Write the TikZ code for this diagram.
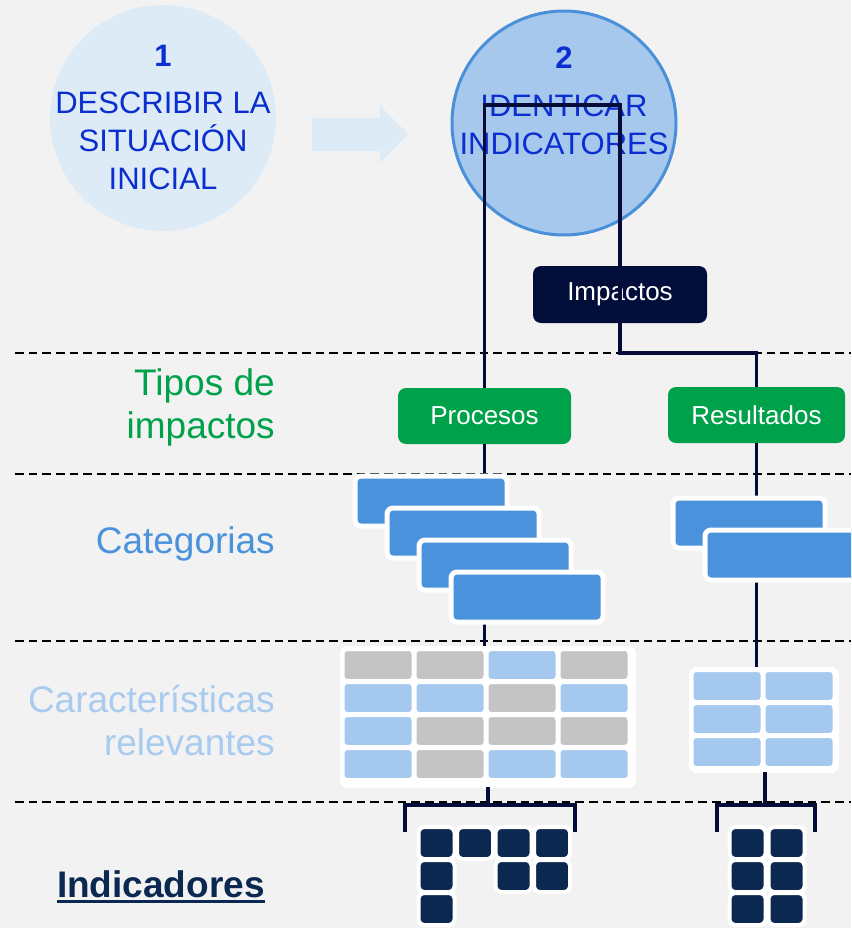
\documentclass[tikz,border=0pt]{standalone}
\usepackage{fontspec}
\setmainfont{Liberation Sans}
\usetikzlibrary{calc}
\definecolor{bgGray}{RGB}{242,242,242}
\definecolor{paleBlue}{RGB}{221,235,247}
\definecolor{midBlue}{RGB}{166,200,237}
\definecolor{ringBlue}{RGB}{74,144,217}
\definecolor{textBlue}{RGB}{10,46,208}
\definecolor{lineNavy}{RGB}{5,12,55}
\definecolor{boxNavy}{RGB}{2,14,58}
\definecolor{impGreen}{RGB}{0,161,75}
\definecolor{catBlue}{RGB}{74,146,220}
\definecolor{cellBlue}{RGB}{165,200,238}
\definecolor{cellGray}{RGB}{196,196,196}
\definecolor{indNavy}{RGB}{11,41,80}
\definecolor{charBlue}{RGB}{169,203,240}

\begin{document}
\begin{tikzpicture}[x=0.75pt,y=0.75pt,yscale=-1,
  link/.style={draw=lineNavy,line width=2.8pt},
  sepline/.style={black,line width=1.5pt,dash pattern=on 6.5pt off 3.75pt},
  tag/.style={rounded corners=6pt,text=white,minimum height=42pt,inner sep=0pt,font=\fontsize{19.5}{22}\selectfont},
  catbox/.style={draw=white,line width=3.75pt,fill=catBlue,rounded corners=4.5pt,minimum width=114pt,minimum height=37.5pt,inner sep=0pt},
  cell/.style={draw=white,line width=2.25pt,rounded corners=3pt,minimum width=52.5pt,minimum height=23.25pt,inner sep=0pt},
  cg/.style={fill=cellGray},
  cb/.style={fill=cellBlue},
  backing/.style={fill=white,rounded corners=6pt},
  ind/.style={draw=white,line width=3pt,fill=indNavy,rounded corners=4pt,minimum width=27pt,minimum height=24pt,inner sep=0pt},
  rowlabel/.style={anchor=east,align=right,inner sep=0pt,font=\fontsize{27.75}{32.25}\selectfont},
  circtext/.style={text=textBlue,align=center,inner sep=0pt,font=\fontsize{23.25}{28.5}\selectfont}]
\useasboundingbox (0,0) rectangle (851,928);
\fill[bgGray] (0,0) rectangle (851,928);
\clip (0,0) rectangle (851,928);

% separators
\foreach \y in {353,474,641,802}
  \draw[sepline] (15,\y) -- (851,\y);

% steps
\node[circle,fill=paleBlue,minimum size=169.5pt,inner sep=0pt] (step1) at (163,118) {};
\node[circle,fill=midBlue,draw=ringBlue,line width=2.25pt,minimum size=168pt,inner sep=0pt] (step2) at (564,123) {};
\fill[paleBlue] (312,118) -- (380,118) -- (380,106) -- (408,134) -- (380,163) -- (380,151) -- (312,151) -- cycle;
\node[circtext] (step1txt) at (163,117) {\textbf{1}\\[6.75pt]DESCRIBIR LA\\SITUACIÓN\\INICIAL};
\node[circtext] (step2txt) at (564,100.5) {\textbf{2}\\[7.5pt]IDENTICAR\\INDICATORES};

% row labels
\node[rowlabel,text=impGreen] (tiposlbl) at (275,407) {Tipos de\\impactos};
\node[rowlabel,text=catBlue,anchor=base east] (catlbl) at (275,553) {Categorias};
\node[rowlabel,text=charBlue] (charlbl) at (275,721) {Características\\relevantes};
\node[rowlabel,text=indNavy,anchor=base east,font=\bfseries\fontsize{27.75}{32}\selectfont] (indlbl) at (265,897) {Indicadores};
\draw[indNavy,line width=2.25pt] ($(indlbl.base west)+(0,4.5)$) -- ($(indlbl.base east)+(0,4.5)$);

% tree
\coordinate (brTR) at (620,105);
\node[tag,fill=boxNavy,minimum width=130.5pt,minimum height=42.75pt] (impactos) at (620,294.5) {Impactos};
\node[tag,fill=impGreen,minimum width=129.75pt] (procesos) at (484.5,416) {Procesos};
\node[tag,fill=impGreen,minimum width=132.75pt] (resultados) at (756.5,415) {Resultados};
\draw[link] (procesos.north) |- (brTR) -- (impactos.south);
\draw[link] (impactos.south) -- ++(0,30) -| (resultados.north);

\coordinate (gridPbot) at (488,787);
\coordinate (brP) at (488,805);
\coordinate (gridRbot) at (765,772);
\coordinate (brR) at (765,805);
\draw[link] (procesos.south) -- (procesos.south |- gridPbot);
\draw[link] (resultados.south) -- (resultados.south |- gridRbot);

% categorias
\foreach \i in {0,...,3}
  \node[catbox] (catP\i) at (431+32*\i,501+32*\i) {};
\foreach \i in {0,1}
  \node[catbox] (catR\i) at (749+32*\i,523+32*\i) {};

% caracteristicas
\fill[backing] (340,646) rectangle (636,788);
\fill[backing] (689,667) rectangle (839,773);
\foreach \row [count=\r from 0] in {{cg,cg,cb,cg},{cb,cb,cg,cb},{cb,cg,cg,cg},{cb,cg,cb,cb}}
  \foreach \c [count=\k from 0] in \row
    \node[cell,\c] (cellP\r\k) at (378+72*\k,665+33*\r) {};
\foreach \r in {0,1,2}
  \foreach \k in {0,1}
    \node[cell,cb] (cellR\r\k) at (727+72*\k,686+33*\r) {};

% brackets
\draw[link] (gridPbot) -- (brP);
\draw[link] (gridRbot) -- (brR);
\draw[link] (brP) ++(-83,27) |- ++(170,-27) -- ++(0,27);
\draw[link] (brR) ++(-48,27) |- ++(98,-27) -- ++(0,27);

% indicadores
\foreach \k/\r in {0/0,1/0,2/0,3/0,0/1,2/1,3/1,0/2}
  \node[ind] (indP\k\r) at (436.5+38.5*\k,843+33*\r) {};
\foreach \k/\r in {0/0,1/0,0/1,1/1,0/2,1/2}
  \node[ind] (indR\k\r) at (747.5+39*\k,843+33*\r) {};

\end{tikzpicture}
\end{document}
